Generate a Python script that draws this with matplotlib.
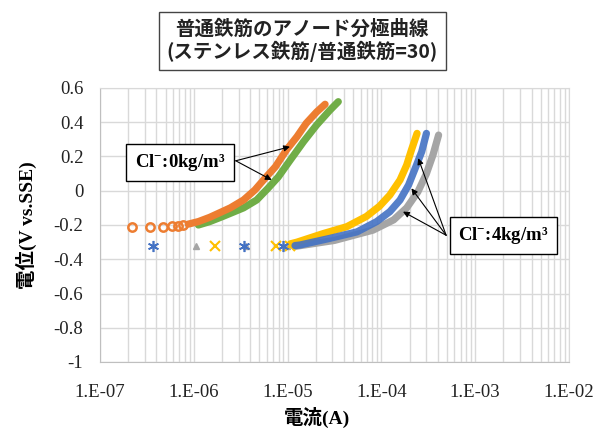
import matplotlib
matplotlib.use("Agg")
import matplotlib.pyplot as plt

plt.rcParams['axes.unicode_minus'] = False
plt.rcParams['mathtext.fontset'] = 'custom'
plt.rcParams['mathtext.rm'] = 'Liberation Serif'
plt.rcParams['mathtext.bf'] = 'Liberation Serif:bold'

# Cl-: 0 kg/m3 series (current A, potential V vs SSE)
orange_sparse_i = [2.19e-7, 3.39e-7, 4.68e-7, 5.89e-7, 6.76e-7, 7.59e-7]
orange_sparse_e = [-0.21, -0.21, -0.21, -0.205, -0.205, -0.20]
orange_i = [8.71e-7, 1.12e-6, 1.48e-6, 2.45e-6, 3.39e-6, 4.47e-6, 5.75e-6, 7.41e-6,
            9.77e-6, 1.26e-5, 1.58e-5, 2.04e-5, 2.51e-5]
orange_e = [-0.195, -0.18, -0.155, -0.10, -0.054, 0.004, 0.073, 0.14,
            0.24, 0.316, 0.394, 0.46, 0.505]
green_i = [1.12e-6, 1.48e-6, 2.04e-6, 3.39e-6, 4.68e-6, 6.17e-6, 7.94e-6, 1.07e-5,
           1.48e-5, 2.04e-5, 2.82e-5, 3.47e-5]
green_e = [-0.20, -0.18, -0.15, -0.10, -0.054, 0.014, 0.08, 0.18,
           0.287, 0.384, 0.47, 0.52]

# Cl-: 4 kg/m3 series
yellow_sparse_i = [1.70e-6, 7.59e-6, 1.07e-5]
yellow_sparse_e = [-0.32, -0.32, -0.32]
yellow_i = [1.07e-5, 1.26e-5, 2.40e-5, 4.27e-5, 6.92e-5, 9.55e-5, 1.23e-4, 1.58e-4,
            1.86e-4, 2.09e-4, 2.40e-4]
yellow_e = [-0.31, -0.30, -0.25, -0.21, -0.15, -0.09, -0.025, 0.063,
            0.15, 0.238, 0.335]
blue_sparse_i = [3.63e-7, 3.39e-6, 8.91e-6]
blue_sparse_e = [-0.325, -0.325, -0.325]
blue_i = [1.20e-5, 1.35e-5, 2.82e-5, 5.50e-5, 8.91e-5, 1.23e-4, 1.58e-4, 1.95e-4,
          2.29e-4, 2.69e-4, 3.02e-4]
blue_e = [-0.32, -0.317, -0.278, -0.24, -0.18, -0.122, -0.054, 0.034,
          0.13, 0.228, 0.335]
gray_sparse_i = [1.05e-6, 3.63e-6, 9.77e-6]
gray_sparse_e = [-0.32, -0.32, -0.32]
gray_i = [1.20e-5, 3.16e-5, 8.13e-5, 1.35e-4, 1.86e-4, 2.45e-4, 3.02e-4, 3.55e-4, 4.07e-4]
gray_e = [-0.325, -0.29, -0.23, -0.17, -0.10, -0.006, 0.10, 0.21, 0.325]

x_ticks = [1e-7, 1e-6, 1e-5, 1e-4, 1e-3, 1e-2]
x_labels = ["1.E-07", "1.E-06", "1.E-05", "1.E-04", "1.E-03", "1.E-02"]
y_ticks = [0.6, 0.4, 0.2, 0, -0.2, -0.4, -0.6, -0.8, -1]

ORANGE, GREEN = "#ED7D31", "#70AD47"
YELLOW, BLUE, GRAY = "#FFC000", "#4472C4", "#A5A5A5"

serif = ['Liberation Serif', 'Noto Sans CJK JP', 'DejaVu Serif']

fig = plt.figure(figsize=(6.13, 4.32), dpi=100)
ax = fig.add_axes([100 / 613, 1 - 362 / 432, 469 / 613, 274 / 432])
ax.set_xscale('log')
ax.set_xlim(1e-7, 1e-2)
ax.set_ylim(-1, 0.6)

ax.grid(True, which='major', color='#D9D9D9', lw=1)
ax.grid(True, which='minor', axis='x', color='#D9D9D9', lw=1)
ax.set_axisbelow(True)
for s in ax.spines.values():
    s.set_color('#D9D9D9')
ax.spines['left'].set_color('#BFBFBF')
ax.spines['bottom'].set_color('#BFBFBF')

band = dict(lw=5.2, solid_capstyle='round', solid_joinstyle='round')

# 4 kg/m3
ax.plot(gray_i, gray_e, '-', color=GRAY, zorder=2, **band)
ax.plot(yellow_i, yellow_e, '-', color=YELLOW, zorder=3, **band)
ax.plot(blue_i, blue_e, '-', color=BLUE, alpha=0.9, zorder=4, **band)
ax.plot(gray_sparse_i, gray_sparse_e, '^', color=GRAY, ms=5, ls='none', zorder=3)
ax.plot(yellow_sparse_i, yellow_sparse_e, 'x', color=YELLOW, ms=7, mew=1.5, ls='none', zorder=3)
ax.plot(blue_sparse_i, blue_sparse_e, marker=(6, 2, 0), color=BLUE, ms=8, mew=1.2, ls='none', zorder=3)

# 0 kg/m3
ax.plot(green_i, green_e, '-', color=GREEN, zorder=5, **band)
ax.plot(orange_i, orange_e, '-', color=ORANGE, zorder=6, **band)
ax.plot(orange_sparse_i, orange_sparse_e, 'o', color=ORANGE, mfc='none', mew=1.8, ms=6, ls='none', zorder=6)

ax.set_xticks(x_ticks)
ax.set_xticklabels(x_labels)
ax.set_yticks(y_ticks)
ax.set_yticklabels([f"{v:g}" for v in y_ticks])
ax.tick_params(which='both', length=0)
ax.tick_params(axis='y', pad=12)
ax.tick_params(axis='x', pad=16)
for lab in ax.get_xticklabels() + ax.get_yticklabels():
    lab.set_family(serif)
    lab.set_fontsize(13.5)
    lab.set_color('#222222')

ax.set_xlabel("電流(A)", family=serif, fontsize=14, fontweight='bold')
ax.xaxis.set_label_coords(0.463, -0.165)
ax.set_ylabel("電位(V vs.SSE)", family=serif, fontsize=14, fontweight='bold')
ax.yaxis.set_label_coords(-0.134, 0.5)

# annotations
box = dict(boxstyle='square,pad=0.45', fc='white', ec='black', lw=1)
arrow = dict(arrowstyle='-|>', color='black', lw=0.8, mutation_scale=9, shrinkA=0, shrinkB=0)
ax.text(7.13e-7, 0.165, r"$\mathbf{Cl^{-}}$:0kg/m³", family=serif, fontsize=13.5, fontweight='bold',
        ha='center', va='center', bbox=box, zorder=10)
for tip in [(1.06e-5, 0.257), (6.76e-6, 0.063)]:
    ax.annotate('', xy=tip, xytext=(2.8e-6, 0.175), arrowprops=arrow, zorder=9)
ax.text(2.0e-3, -0.261, r"$\mathbf{Cl^{-}}$:4kg/m³", family=serif, fontsize=13.5, fontweight='bold',
        ha='center', va='center', bbox=box, zorder=10)
for tip in [(2.47e-4, 0.19), (2.09e-4, 0.014), (1.70e-4, -0.122)]:
    ax.annotate('', xy=tip, xytext=(4.9e-4, -0.26), arrowprops=arrow, zorder=9)

fig.text(0.493, 1 - 41 / 432, "普通鉄筋のアノード分極曲線\n(ステンレス鉄筋/普通鉄筋=30)",
         family=['Noto Sans CJK JP', 'DejaVu Sans'], fontsize=14, fontweight='bold',
         ha='center', va='center', linespacing=1.1, color='#222222',
         bbox=dict(boxstyle='square,pad=0.4', fc='white', ec='#444444', lw=1))

fig.savefig("out.png", dpi=100)
